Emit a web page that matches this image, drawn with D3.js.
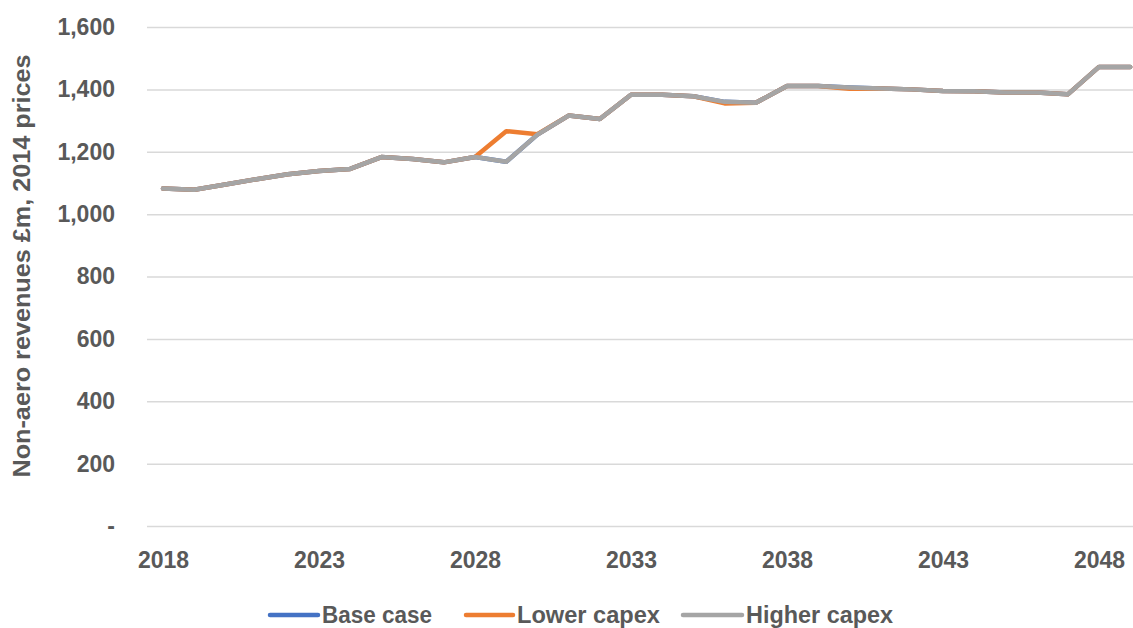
<!DOCTYPE html>
<html><head><meta charset="utf-8">
<script src="https://cdn.jsdelivr.net/npm/d3@7/dist/d3.min.js"></script>
<style>
html,body{margin:0;padding:0;background:#fff;overflow:hidden;}
text{font-family:"Liberation Sans",Arial,sans-serif;font-weight:bold;fill:#595959;}
</style></head>
<body>
<svg id="c" width="1133" height="628"></svg>
<script>
const years = d3.range(2018, 2050);
const baseCase = [1082,1078,1095,1112,1128,1138,1145,1183,1177,1166,1183,1168,1255,1316,1305,1383,1383,1378,1360,1357,1411,1411,1406,1403,1400,1395,1394,1390,1390,1384,1472,1472];
const lowerCapex = [1082,1078,1095,1112,1128,1138,1145,1183,1177,1166,1183,1266,1256,1316,1305,1383,1383,1378,1355,1357,1411,1411,1402,1403,1400,1395,1394,1390,1390,1384,1472,1472];
const higherCapex = [1082,1078,1095,1112,1128,1138,1145,1183,1177,1166,1183,1168,1255,1316,1305,1383,1383,1378,1360,1357,1411,1411,1406,1403,1400,1395,1394,1390,1390,1384,1472,1472];
const seriesNames = ["Base case","Lower capex","Higher capex"];
const seriesColors = ["#4472C4","#ED7D31","#A5A5A5"];
const yTicks = [0,200,400,600,800,1000,1200,1400,1600];
const xTicks = [2018,2023,2028,2033,2038,2043,2048];
const yTitle = "Non-aero revenues £m, 2014 prices";

const svg = d3.select("#c");
const x = d3.scaleLinear().domain([2018,2048]).range([163,1099]);
const y = d3.scaleLinear().domain([0,1600]).range([526,27]);
const fmt = v => v === 0 ? "-" : d3.format(",")(v);

// gridlines
const yAxis = d3.axisLeft(y).tickValues(yTicks).tickSize(-1000).tickFormat(fmt).tickPadding(32);
const gy = svg.append("g").attr("transform","translate(147,0)").call(yAxis);
gy.select(".domain").remove();
gy.selectAll(".tick line").attr("stroke","#d9d9d9").attr("stroke-width",1.5);
gy.selectAll(".tick text").style("font-size","23px").attr("fill","#595959");

const xAxis = d3.axisBottom(x).tickValues(xTicks).tickSize(0).tickFormat(d3.format("d")).tickPadding(26);
const gx = svg.append("g").attr("transform","translate(0,526)").call(xAxis);
gx.select(".domain").remove();
gx.selectAll(".tick text").style("font-size","23px").attr("fill","#595959");

// y title
svg.append("text").attr("transform","translate(30,266) rotate(-90)")
  .attr("text-anchor","middle").style("font-size","23px")
  .attr("textLength",423).attr("lengthAdjust","spacingAndGlyphs").text(yTitle);

// lines
const line = d3.line().x((d,i)=>x(years[i])).y(d=>y(d));
[baseCase, lowerCapex, higherCapex].forEach((s,k)=>{
  svg.append("path").datum(s).attr("d",line).attr("fill","none")
    .attr("stroke",seriesColors[k]).attr("stroke-width",4.5)
    .attr("stroke-linecap","round").attr("stroke-linejoin","round");
});

// legend
const legX = [[270,322],[466,517],[683,746]];
const legW = [110,143,147];
seriesNames.forEach((n,k)=>{
  svg.append("line").attr("x1",legX[k][0]).attr("x2",legX[k][1]-4).attr("y1",615).attr("y2",615)
    .attr("stroke",seriesColors[k]).attr("stroke-width",4.5).attr("stroke-linecap","round");
  svg.append("text").attr("x",legX[k][1]).attr("y",623).style("font-size","23px")
    .attr("textLength",legW[k]).attr("lengthAdjust","spacingAndGlyphs").text(n);
});
</script>
</body></html>
